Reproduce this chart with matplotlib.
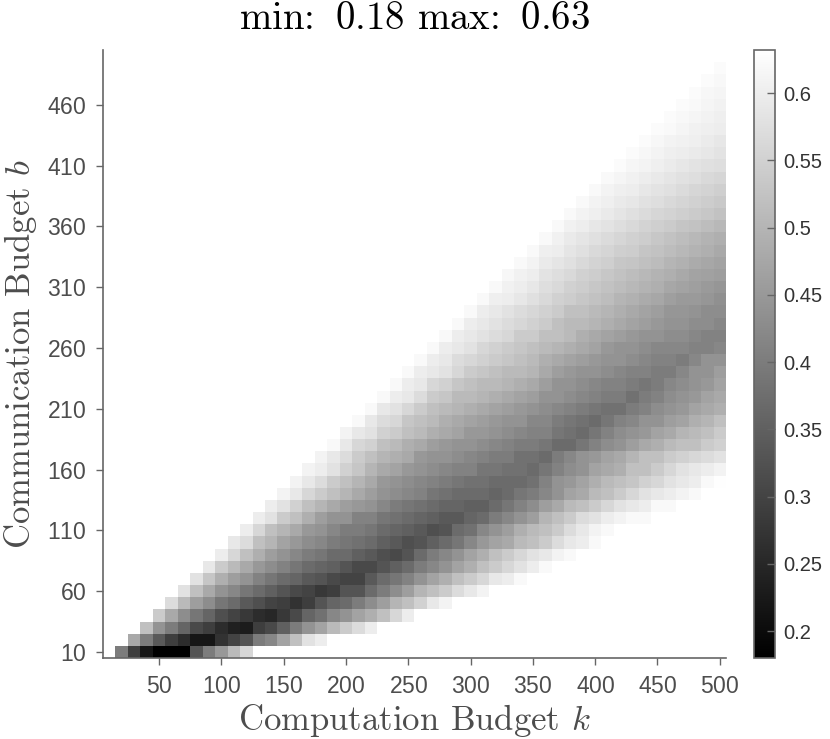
import numpy as np
from matplotlib import pyplot as plt

budgets = np.arange(10, 501, 10)
cbar_ticks = [0.2, 0.25, 0.3, 0.35, 0.4, 0.45, 0.5, 0.55, 0.6]
cbar_labels = ['0.2', '0.25', '0.3', '0.35', '0.4', '0.45', '0.5', '0.55', '0.6']
x_ticks = [50, 100, 150, 200, 250, 300, 350, 400, 450, 500]
y_ticks = [10, 60, 110, 160, 210, 260, 310, 360, 410, 460]
value_min = 0.18
value_max = 0.632

# Values x100, one list per b. Each list starts at k = b + 10, anything past its end is blank
row_values = [
    [40, 29, 22, 18, 18, 18, 33, 40, 45, 51, 56],
    [48, 40, 34, 29, 26, 22, 22, 27, 30, 33, 40, 42, 47, 52, 58, 60],
    [52, 44, 40, 36, 31, 29, 26, 24, 23, 29, 31, 35, 40, 44, 47, 51, 54, 57, 60],
    [54, 48, 43, 39, 36, 32, 30, 28, 26, 25, 28, 31, 36, 38, 42, 44, 47, 49, 52, 56, 60],
    [57, 51, 46, 43, 39, 37, 34, 32, 30, 29, 27, 29, 33, 36, 37, 40, 43, 46, 50, 52, 55, 59, 61],
    [58, 52, 48, 44, 42, 39, 37, 35, 33, 31, 30, 28, 29, 33, 33, 37, 40, 43, 46, 50, 52, 54, 57, 59, 61],
    [58, 53, 49, 46, 44, 41, 39, 37, 36, 34, 33, 31, 30, 30, 34, 37, 39, 41, 44, 47, 49, 52, 54, 56, 59, 60, 62],
    [59, 54, 51, 48, 45, 43, 41, 39, 37, 36, 35, 33, 31, 31, 33, 35, 37, 40, 42, 44, 47, 49, 52, 54, 56, 58, 60, 62],
    [60, 56, 52, 49, 46, 44, 42, 40, 39, 37, 37, 35, 34, 32, 31, 33, 37, 40, 42, 44, 47, 49, 52, 54, 56, 58, 59, 61, 62],
    [59, 57, 52, 50, 47, 45, 43, 42, 40, 39, 38, 37, 35, 34, 32, 33, 35, 37, 39, 42, 45, 47, 48, 51, 52, 54, 57, 59, 60, 62],
    [60, 56, 52, 50, 48, 45, 44, 42, 40, 40, 39, 37, 36, 35, 34, 32, 33, 37, 38, 42, 44, 46, 49, 51, 52, 54, 57, 59, 61, 62],
    [60, 58, 54, 52, 49, 46, 44, 44, 41, 41, 39, 38, 37, 36, 35, 34, 34, 36, 37, 40, 42, 44, 46, 50, 52, 54, 57, 58, 60, 61, 62, 62],
    [60, 58, 55, 52, 50, 48, 46, 45, 44, 42, 40, 39, 38, 37, 36, 36, 35, 35, 37, 39, 41, 43, 46, 48, 51, 52, 54, 56, 58, 59, 60, 62, 62],
    [61, 59, 56, 54, 52, 50, 48, 46, 44, 43, 42, 41, 39, 38, 37, 37, 37, 36, 37, 39, 40, 42, 44, 47, 48, 51, 52, 54, 56, 58, 59, 60, 61, 62],
    [61, 59, 57, 54, 52, 50, 48, 45, 44, 43, 42, 41, 40, 39, 38, 38, 37, 37, 37, 38, 41, 44, 45, 47, 49, 51, 52, 53, 55, 56, 58, 59, 60, 62, 63],
    [61, 60, 58, 55, 53, 50, 48, 47, 45, 44, 43, 42, 41, 41, 39, 39, 38, 38, 37, 39, 41, 43, 44, 47, 48, 49, 52, 52, 54, 56, 58, 59, 60, 61],
    [61, 59, 57, 54, 52, 50, 49, 48, 45, 44, 44, 43, 42, 41, 40, 40, 38, 38, 37, 40, 42, 44, 45, 47, 48, 50, 52, 52, 54, 55, 56, 57, 58],
    [62, 59, 56, 55, 52, 51, 49, 48, 46, 45, 44, 44, 43, 42, 41, 40, 40, 39, 37, 37, 39, 41, 43, 44, 46, 48, 49, 51, 52, 52, 54, 55],
    [61, 59, 58, 55, 54, 52, 51, 49, 48, 47, 45, 45, 44, 43, 42, 41, 41, 39, 38, 37, 39, 41, 43, 44, 45, 47, 48, 50, 51, 52, 54],
    [62, 59, 57, 56, 53, 52, 51, 49, 48, 47, 46, 45, 44, 44, 42, 42, 40, 39, 38, 37, 39, 41, 42, 44, 44, 46, 47, 49, 50, 52],
    [62, 59, 58, 56, 54, 52, 51, 50, 49, 48, 47, 46, 45, 44, 43, 42, 41, 40, 39, 38, 38, 40, 41, 43, 44, 45, 47, 48, 49],
    [62, 60, 59, 57, 54, 53, 51, 51, 50, 49, 48, 47, 46, 44, 44, 43, 42, 41, 40, 40, 38, 40, 41, 43, 44, 45, 47, 48],
    [62, 60, 59, 56, 55, 53, 52, 51, 51, 50, 49, 48, 46, 44, 44, 43, 42, 41, 41, 40, 39, 40, 42, 43, 44, 45, 47],
    [62, 60, 59, 58, 56, 54, 53, 52, 51, 51, 50, 48, 46, 45, 44, 44, 43, 42, 41, 41, 40, 40, 42, 44, 44, 46],
    [62, 60, 59, 57, 56, 55, 54, 53, 52, 51, 49, 48, 47, 46, 45, 44, 44, 43, 42, 41, 41, 40, 42, 44, 44],
    [62, 60, 59, 58, 56, 55, 54, 53, 52, 51, 50, 49, 48, 47, 45, 44, 44, 43, 42, 42, 42, 41, 41, 42],
    [62, 60, 59, 58, 57, 56, 54, 54, 52, 52, 51, 49, 48, 47, 46, 45, 44, 44, 43, 43, 42, 41, 41],
    [62, 60, 59, 58, 57, 56, 55, 54, 52, 51, 51, 50, 49, 48, 47, 46, 45, 44, 44, 43, 43, 42],
    [62, 60, 59, 58, 57, 56, 55, 54, 52, 52, 51, 50, 49, 48, 47, 46, 44.5, 44.5, 44, 43, 43],
    [62, 60.3, 60, 58.9, 57.7, 56.4, 55, 54.2, 53.3, 52.4, 51.5, 50.1, 49.4, 48.3, 47.6, 46.2, 45.3, 45.3, 44.5, 43.6],
    [62.1, 60.7, 60, 58.9, 57.2, 56.4, 55, 54.2, 53.3, 52.4, 51.5, 50.6, 49.7, 48.9, 47.6, 47.1, 46.2, 45.3, 44.5],
    [61.7, 60.7, 60, 58.2, 57.2, 56.4, 55, 54.2, 53.3, 52.4, 51.5, 50.6, 49.7, 48.9, 48, 47.1, 46.6, 45.9],
    [62.1, 61.2, 59.4, 58.6, 57.7, 56.4, 55.4, 54.7, 53.3, 52.9, 51.9, 51.2, 50.1, 49.4, 48.3, 47.6, 47.1],
    [62.1, 60.3, 60, 58.6, 57.7, 56.4, 55.7, 54.7, 54.2, 52.9, 52.4, 51.5, 50.6, 49.7, 48.9, 48],
    [62.1, 60.7, 59.4, 58.6, 57.7, 56.8, 55.9, 55, 54.2, 53.3, 52.4, 51.5, 50.6, 49.7, 48.9],
    [62.1, 60.7, 60, 58.9, 58.2, 57.2, 56.4, 55.4, 54.7, 54, 52.9, 52.4, 51.5, 50.6],
    [62.1, 61.2, 60.3, 59.4, 58.6, 57.7, 56.8, 55.9, 55.4, 54.7, 54, 53.3, 52.4],
    [62.1, 61.2, 60.3, 59.4, 58.9, 57.9, 57.2, 56.4, 55.7, 55, 54.3, 53.6],
    [62.1, 61.2, 60.3, 60, 58.9, 58.2, 57.7, 56.8, 55.9, 55.4, 54.7],
    [62.1, 61.4, 60.7, 60, 59.3, 58.6, 57.9, 57.2, 56.4, 55.9],
    [62.4, 61.6, 61, 60.3, 59.6, 58.9, 58.2, 57.7, 57.2],
    [62.4, 61.7, 61.2, 60.3, 60, 59.4, 58.9, 58.2],
    [62.4, 61.7, 61.2, 60.7, 60.3, 59.6, 58.9],
    [62.4, 62.1, 61.4, 60.7, 60.3, 60],
    [62.4, 61.9, 61.4, 60.9, 60.3],
    [62.4, 62.1, 61.4, 60.9],
    [62.4, 61.7, 61.4],
    [62.4, 61.9],
    [62.4],
    [],
]

# Build the grid, blank cells take the top of the colour scale so they come out white
grid = np.full((len(budgets), len(budgets)), value_max)
for i, row in enumerate(row_values):
    for j, value in enumerate(row):
        grid[i, i + 1 + j] = value / 100

plt.rcParams['font.family'] = ['Liberation Sans', 'DejaVu Sans']
plt.rcParams['mathtext.fontset'] = 'cm'
plt.rcParams['axes.formatter.use_mathtext'] = True
text_color = '#4d4d4d'
line_color = '#666666'
tex_font = ['cmr10', 'DejaVu Serif']

w, h = 830, 739
fig = plt.figure(figsize=(w / 100, h / 100), dpi=100)
ax = fig.add_axes([103 / w, 1 - 658 / h, 623 / w, 608 / h])
cax = fig.add_axes([753.5 / w, 1 - 658 / h, 21 / w, 608 / h])

im = ax.imshow(grid, cmap='gray', vmin=value_min, vmax=value_max, origin='lower',
               extent=[5, 505, 5, 505], aspect='auto', interpolation='nearest')

ax.set_xticks(x_ticks)
ax.set_yticks(y_ticks)
ax.tick_params(length=5, width=1, color=line_color, labelcolor=text_color, labelsize=16.5, pad=7)
for side in ['top', 'right']:
    ax.spines[side].set_visible(False)
for side in ['left', 'bottom']:
    ax.spines[side].set_color(line_color)
    ax.spines[side].set_linewidth(1.2)

# Labels and title are in Computer Modern
ax.set_xlabel(r'Computation Budget $k$', fontsize=25, family=tex_font, color=text_color, labelpad=3)
ax.set_ylabel(r'Communication Budget $b$', fontsize=25, family=tex_font, color=text_color, labelpad=6)
ax.set_title(r'min:$\:$ 0.18 max:$\:$ 0.63', fontsize=28, family=tex_font, color='black', pad=15)

cbar = fig.colorbar(im, cax=cax)
cbar.set_ticks(cbar_ticks, labels=cbar_labels)
cbar.ax.tick_params(direction='in', length=6, width=1, color=line_color, labelcolor='#333333', labelsize=14.5, pad=6)
cbar.outline.set_edgecolor(line_color)
cbar.outline.set_linewidth(1.2)

plt.savefig('out.png', dpi=100)
